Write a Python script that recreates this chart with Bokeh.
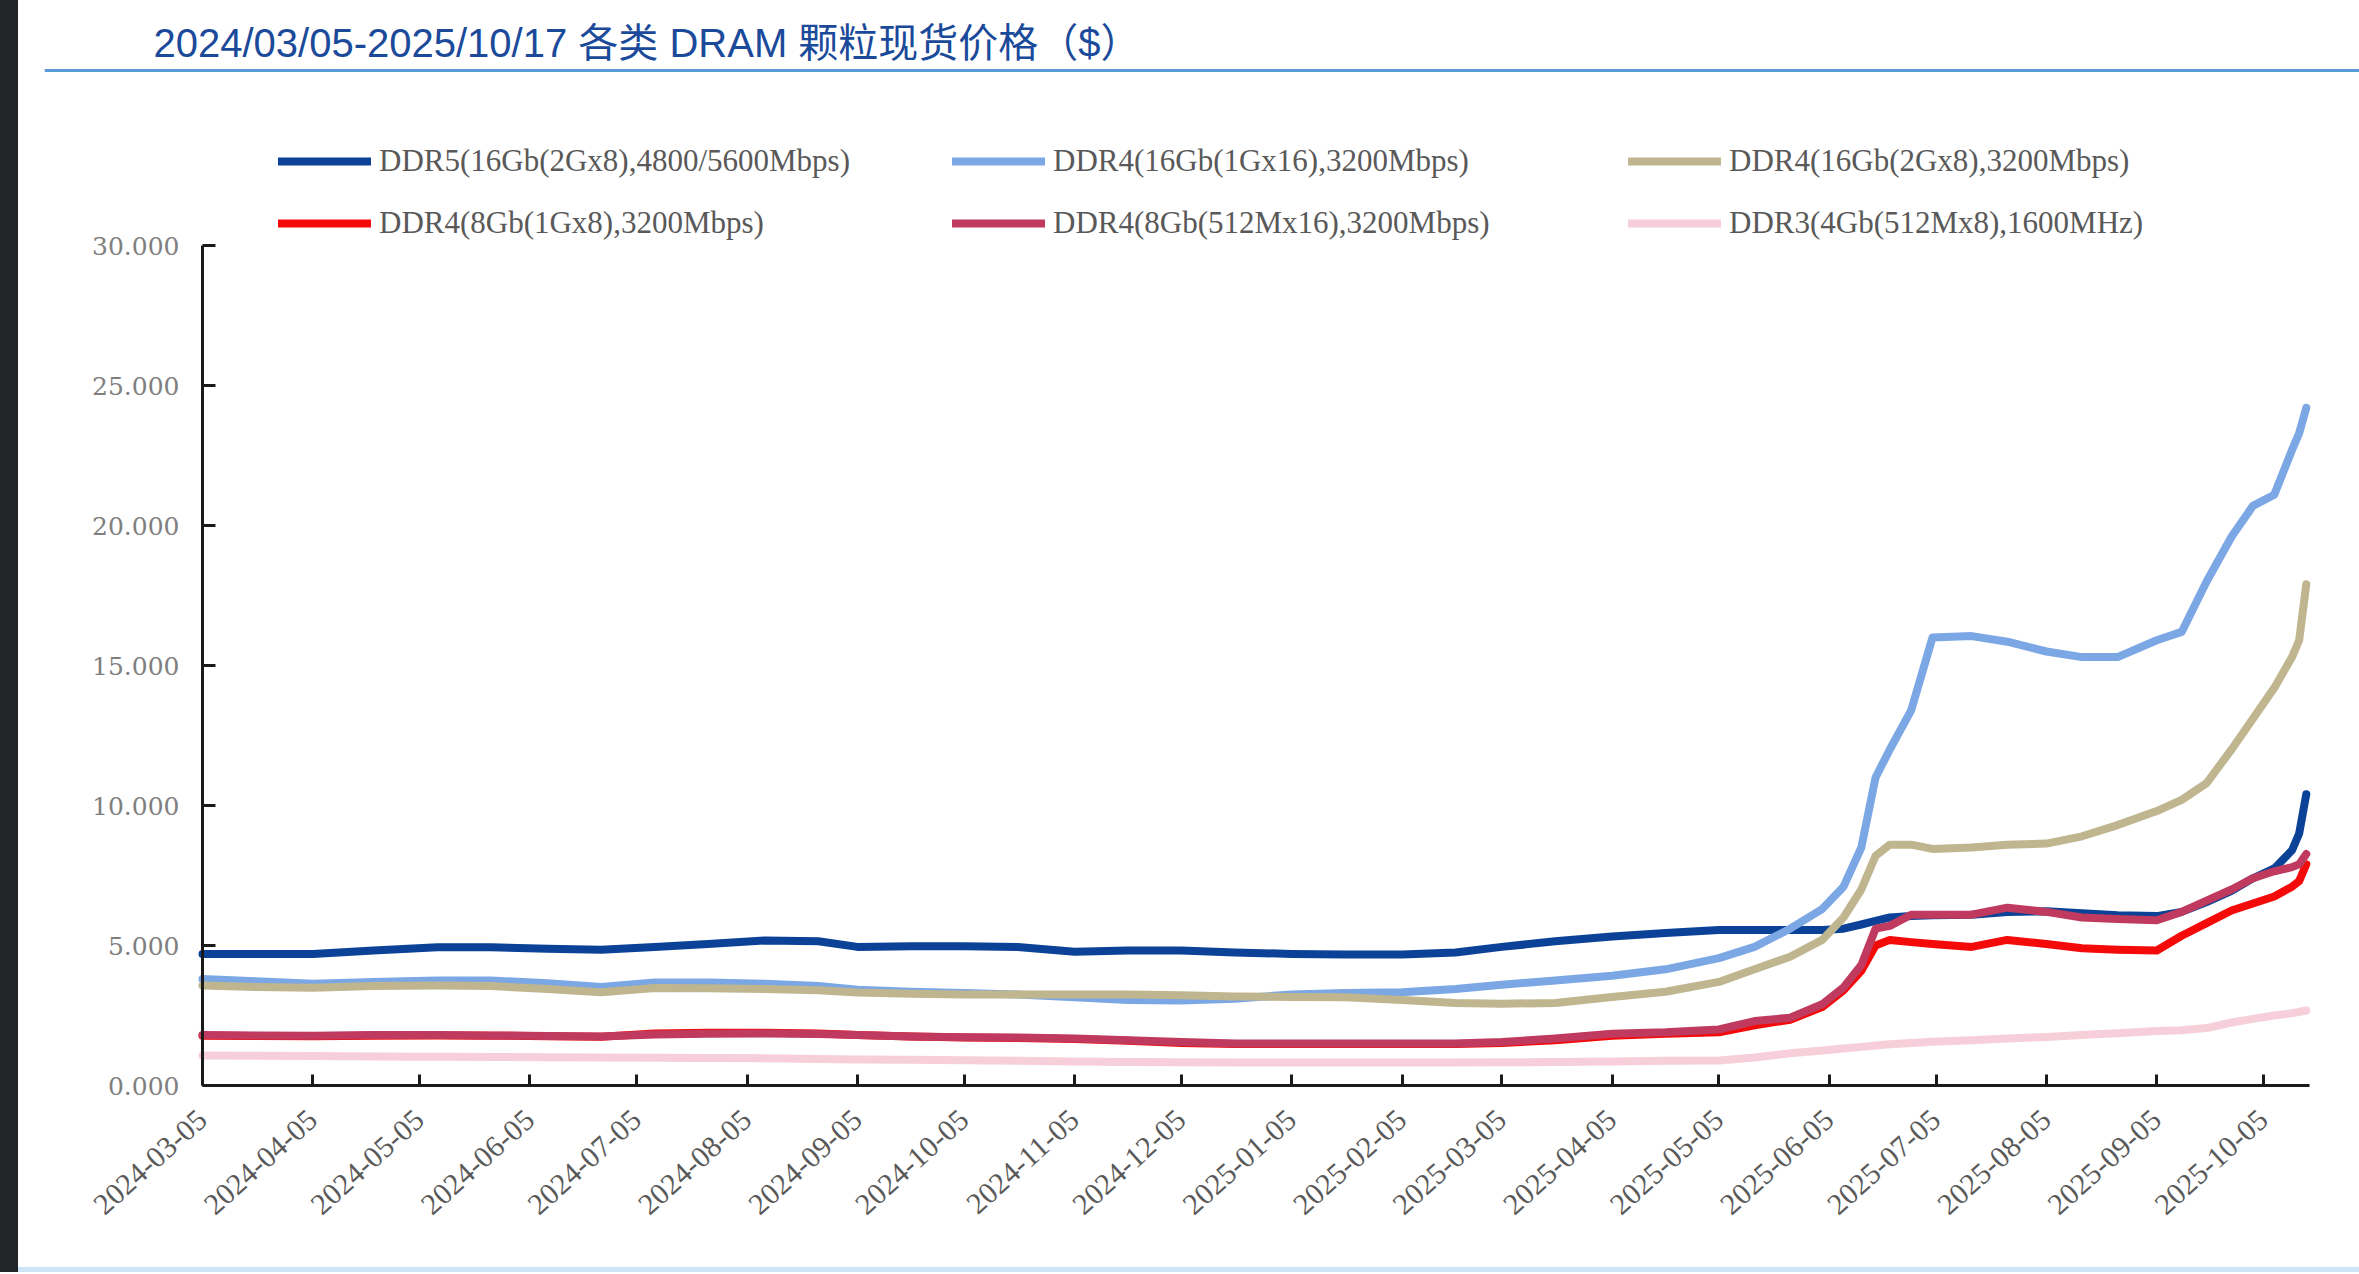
import pandas as pd
from bokeh.plotting import figure
from bokeh.layouts import row, column
from bokeh.models import (ColumnDataSource, Range1d, FixedTicker, DatetimeTickFormatter,
                          NumeralTickFormatter, Legend, LegendItem, Label, BoxAnnotation, Div)
from bokeh.embed import file_html
from bokeh.resources import INLINE

# ---------------- data ----------------
title_text = "2024/03/05-2025/10/17 各类 DRAM 颗粒现货价格（$）"

dates = [
    "2024-03-05", "2024-03-20", "2024-04-05", "2024-04-22", "2024-05-10", "2024-05-25",
    "2024-06-10", "2024-06-25", "2024-07-10", "2024-07-25", "2024-08-10", "2024-08-25",
    "2024-09-05", "2024-09-20", "2024-10-05", "2024-10-20", "2024-11-05", "2024-11-20",
    "2024-12-05", "2024-12-20", "2025-01-05", "2025-01-20", "2025-02-05", "2025-02-20",
    "2025-03-05", "2025-03-20", "2025-04-05", "2025-04-20", "2025-05-05", "2025-05-15",
    "2025-05-25", "2025-06-03", "2025-06-09", "2025-06-14", "2025-06-18", "2025-06-22",
    "2025-06-28", "2025-07-04", "2025-07-15", "2025-07-25", "2025-08-05", "2025-08-15",
    "2025-08-25", "2025-09-05", "2025-09-12", "2025-09-19", "2025-09-26", "2025-10-02",
    "2025-10-08", "2025-10-13", "2025-10-15", "2025-10-17",
]

ddr5_16gb_2gx8 = [
    4.70, 4.70, 4.70, 4.82, 4.94, 4.94, 4.88, 4.85, 4.95, 5.05,
    5.18, 5.15, 4.95, 4.97, 4.97, 4.95, 4.78, 4.82, 4.82, 4.75,
    4.70, 4.68, 4.68, 4.75, 4.95, 5.15, 5.32, 5.45, 5.55, 5.55,
    5.55, 5.55, 5.60, 5.75, 5.88, 6.00, 6.05, 6.08, 6.10, 6.20,
    6.22, 6.15, 6.08, 6.05, 6.20, 6.55, 6.95, 7.40, 7.75, 8.40,
    9.00, 10.40,
]
ddr4_16gb_1gx16 = [
    3.80, 3.72, 3.63, 3.70, 3.75, 3.75, 3.65, 3.52, 3.68, 3.68,
    3.63, 3.55, 3.42, 3.35, 3.30, 3.25, 3.15, 3.05, 3.04, 3.10,
    3.25, 3.30, 3.33, 3.45, 3.60, 3.75, 3.92, 4.15, 4.55, 4.95,
    5.60, 6.30, 7.10, 8.50, 11.00, 12.00, 13.40, 16.00, 16.05, 15.85,
    15.50, 15.30, 15.30, 15.90, 16.20, 18.00, 19.60, 20.70, 21.10, 22.70,
    23.30, 24.20,
]
ddr4_16gb_2gx8 = [
    3.57, 3.52, 3.49, 3.55, 3.57, 3.55, 3.45, 3.33, 3.48, 3.47,
    3.45, 3.40, 3.32, 3.28, 3.25, 3.25, 3.25, 3.25, 3.22, 3.18,
    3.16, 3.15, 3.05, 2.95, 2.92, 2.95, 3.16, 3.35, 3.70, 4.15,
    4.60, 5.20, 6.00, 7.00, 8.20, 8.60, 8.60, 8.45, 8.50, 8.60,
    8.64, 8.90, 9.30, 9.80, 10.20, 10.80, 12.00, 13.10, 14.20, 15.30,
    15.90, 17.90,
]
ddr4_8gb_1gx8 = [
    1.78, 1.77, 1.76, 1.78, 1.79, 1.78, 1.76, 1.74, 1.86, 1.88,
    1.88, 1.86, 1.80, 1.75, 1.71, 1.70, 1.66, 1.60, 1.52, 1.48,
    1.48, 1.48, 1.48, 1.48, 1.52, 1.62, 1.78, 1.85, 1.90, 2.15,
    2.35, 2.80, 3.40, 4.10, 5.00, 5.20, 5.12, 5.05, 4.95, 5.20,
    5.05, 4.90, 4.85, 4.82, 5.35, 5.80, 6.25, 6.50, 6.75, 7.10,
    7.30, 7.90,
]
ddr4_8gb_512mx16 = [
    1.80, 1.79, 1.78, 1.80, 1.80, 1.79, 1.77, 1.75, 1.82, 1.85,
    1.86, 1.84, 1.80, 1.75, 1.72, 1.71, 1.68, 1.62, 1.55, 1.50,
    1.50, 1.50, 1.50, 1.50, 1.55, 1.68, 1.85, 1.90, 2.00, 2.30,
    2.42, 2.90, 3.50, 4.30, 5.60, 5.70, 6.10, 6.10, 6.10, 6.35,
    6.20, 6.00, 5.95, 5.90, 6.20, 6.60, 7.00, 7.40, 7.65, 7.80,
    7.90, 8.27,
]
ddr3_4gb_512mx8 = [
    1.07, 1.06, 1.05, 1.04, 1.03, 1.02, 1.01, 1.00, 0.99, 0.98,
    0.97, 0.95, 0.93, 0.92, 0.90, 0.88, 0.86, 0.84, 0.83, 0.82,
    0.82, 0.82, 0.82, 0.82, 0.83, 0.84, 0.86, 0.88, 0.89, 1.00,
    1.15, 1.25, 1.32, 1.38, 1.43, 1.47, 1.52, 1.56, 1.62, 1.68,
    1.73, 1.80, 1.87, 1.95, 1.97, 2.05, 2.25, 2.38, 2.50, 2.58,
    2.63, 2.68,
]

series_labels = [
    "DDR5(16Gb(2Gx8),4800/5600Mbps)",
    "DDR4(16Gb(1Gx16),3200Mbps)",
    "DDR4(16Gb(2Gx8),3200Mbps)",
    "DDR4(8Gb(1Gx8),3200Mbps)",
    "DDR4(8Gb(512Mx16),3200Mbps)",
    "DDR3(4Gb(512Mx8),1600MHz)",
]
series_keys = ["ddr5", "ddr4a", "ddr4b", "ddr4c", "ddr4d", "ddr3"]
series_colors = ["#0B4297", "#7BA7E4", "#BFB58F", "#F50A0A", "#BF3A5E", "#F6CFDB"]

tick_dates = [
    "2024-03-05", "2024-04-05", "2024-05-05", "2024-06-05", "2024-07-05", "2024-08-05",
    "2024-09-05", "2024-10-05", "2024-11-05", "2024-12-05", "2025-01-05", "2025-02-05",
    "2025-03-05", "2025-04-05", "2025-05-05", "2025-06-05", "2025-07-05", "2025-08-05",
    "2025-09-05", "2025-10-05",
]
y_ticks = [0, 5, 10, 15, 20, 25, 30]
y_axis_min = 0
y_axis_max = 30

# ---------------- geometry (page pixels) ----------------
strip_w = 18
fig_w = 2359 - strip_w
fig_h = 1267
border_left = 26                       # frame starts at page x = 44
frame_left_page = strip_w + border_left
frame_bottom_page = fig_h              # frame covers the full height
axis_page_x = 202                      # where the y axis (2024-03-05) sits
axis_page_y = 1085                     # where the x axis (y = 0) sits
px_per_day = 3.5597
px_per_unit = 28.0

x_start = pd.Timestamp("2024-03-05")
x_axis_end = pd.Timestamp("2025-10-17 21:00")
view_start = x_start - pd.Timedelta(days=(axis_page_x - frame_left_page) / px_per_day)
frame_w = fig_w - border_left
view_end = view_start + pd.Timedelta(days=frame_w / px_per_day)
y_view_bottom = -(frame_bottom_page - axis_page_y) / px_per_unit
y_view_top = axis_page_y / px_per_unit

# ---------------- figure ----------------
source = ColumnDataSource(dict(
    date=pd.to_datetime(dates),
    ddr5=ddr5_16gb_2gx8,
    ddr4a=ddr4_16gb_1gx16,
    ddr4b=ddr4_16gb_2gx8,
    ddr4c=ddr4_8gb_1gx8,
    ddr4d=ddr4_8gb_512mx16,
    ddr3=ddr3_4gb_512mx8,
))

p = figure(
    width=fig_w, height=fig_h,
    x_axis_type="datetime",
    x_range=Range1d(view_start, view_end),
    y_range=Range1d(y_view_bottom, y_view_top),
    output_backend="svg", toolbar_location=None,
    min_border_left=border_left, min_border_right=0, min_border_top=0,
    min_border_bottom=0,
)
p.outline_line_color = None
p.xgrid.visible = False
p.ygrid.visible = False
p.background_fill_color = "white"
p.border_fill_color = "white"

renderers = []
for key, col in zip(series_keys, series_colors):
    r = p.line(x="date", y=key, source=source, line_color=col, line_width=8,
               line_cap="round", line_join="round")
    renderers.append(r)

# axes
xa = p.xaxis[0]
xa.fixed_location = y_axis_min
xa.bounds = (x_start, x_axis_end)
xa.ticker = FixedTicker(ticks=[pd.Timestamp(d).value / 1e6 for d in tick_dates])
fmt = "%Y-%m-%d"
xa.formatter = DatetimeTickFormatter(
    microseconds=fmt, milliseconds=fmt, seconds=fmt, minsec=fmt, minutes=fmt,
    hourmin=fmt, hours=fmt, days=fmt, months=fmt, years=fmt)
xa.major_label_orientation = 0.733
xa.major_label_text_font = "Liberation Serif"
xa.major_label_text_font_size = "30px"
xa.major_label_text_color = "#595959"
xa.major_label_standoff = 30
xa.axis_line_width = 3
xa.axis_line_color = "#1a1a1a"
xa.major_tick_line_width = 3
xa.major_tick_line_color = "#1a1a1a"
xa.major_tick_in = 11
xa.major_tick_out = 0
xa.minor_tick_line_color = None

ya = p.yaxis[0]
ya.fixed_location = x_start.value / 1e6
ya.bounds = (y_axis_min, y_axis_max)
ya.ticker = FixedTicker(ticks=y_ticks)
ya.formatter = NumeralTickFormatter(format="0.000")
ya.major_label_text_font = "DejaVu Serif"
ya.major_label_text_font_size = "25px"
ya.major_label_text_color = "#808080"
ya.major_label_standoff = 23
ya.axis_line_width = 3
ya.axis_line_color = "#1a1a1a"
ya.major_tick_line_width = 3
ya.major_tick_line_color = "#1a1a1a"
ya.major_tick_in = 13
ya.major_tick_out = 0
ya.minor_tick_line_color = None

# legends (one per item, 3 columns x 2 rows)
legend_cols_page = [278, 952, 1628]
legend_rows_center_page = [161, 223]
item_h = 36
for i, (r, lab) in enumerate(zip(renderers, series_labels)):
    lx = legend_cols_page[i % 3] - frame_left_page
    ly = frame_bottom_page - (legend_rows_center_page[i // 3] + item_h / 2)
    leg = Legend(
        items=[LegendItem(label=lab, renderers=[r])],
        location=(lx, ly),
        glyph_width=93, glyph_height=item_h, label_height=item_h, label_standoff=8,
        padding=0, margin=0, spacing=0,
        border_line_alpha=0, background_fill_alpha=0,
        label_text_font="Liberation Serif", label_text_font_size="31px",
        label_text_color="#595959",
    )
    p.add_layout(leg)

# title
p.add_layout(Label(
    x=153 - frame_left_page, y=frame_bottom_page - 42, x_units="screen", y_units="screen",
    text=title_text,
    text_font="'Liberation Sans', 'Noto Sans CJK SC'", text_font_size="40px",
    text_color="#1B4A9A", text_baseline="middle", text_align="left",
))
# title underline
p.add_layout(BoxAnnotation(
    left=0, right=frame_w, bottom=frame_bottom_page - 71.5, top=frame_bottom_page - 68.5,
    left_units="screen", right_units="screen", bottom_units="screen", top_units="screen",
    fill_color="#5B9BD5", fill_alpha=1, line_alpha=0,
))

strip = Div(text="", width=strip_w, height=fig_h + 5, margin=0,
            styles={"background-color": "#232427"})
bottom_rule = Div(text="", width=fig_w, height=5, margin=0,
                  styles={"background-color": "#CFE4F6"})

layout = row(strip, column(p, bottom_rule, spacing=0), spacing=0)
open("out.html", "w").write(file_html(layout, INLINE))
